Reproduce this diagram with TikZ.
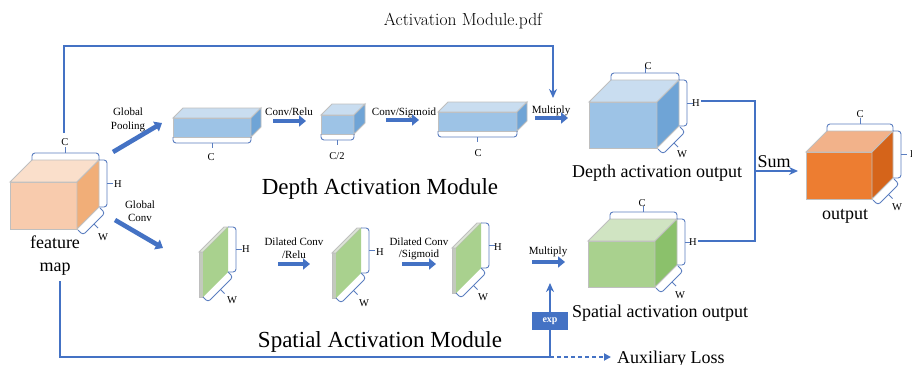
\documentclass[tikz,border=0pt]{standalone}
\usepackage{fontspec}
\newfontfamily\tnr{Liberation Serif}
\usetikzlibrary{arrows.meta,calc}
\definecolor{ln}{HTML}{4472C4}
\definecolor{brcol}{HTML}{5B7EC0}
\definecolor{edgecol}{HTML}{BFBFBF}
\definecolor{bfront}{HTML}{9DC3E6}
\definecolor{btop}{HTML}{C9DDF0}
\definecolor{bside}{HTML}{6FA4D6}
\definecolor{ofront}{HTML}{F8CBAD}
\definecolor{otop}{HTML}{FADFCB}
\definecolor{oside}{HTML}{F1AE78}
\definecolor{rfront}{HTML}{ED7D31}
\definecolor{rtop}{HTML}{F2B28A}
\definecolor{rside}{HTML}{D5641A}
\definecolor{gfront}{HTML}{A9D18E}
\definecolor{gtop}{HTML}{D0E4C2}
\definecolor{gside}{HTML}{8BC16B}
\definecolor{sstrip}{HTML}{C3CABD}
\definecolor{stopc}{HTML}{DDE6D6}
\newcommand{\brk}[3]{%
  \draw[brc] (#1) -- ($(#1)+(#3)$) -- ($(#2)+(#3)$) -- (#2);
  \draw[brc] ($(#1)!0.5!(#2)+(#3)$) -- ($(#1)!0.5!(#2)+1.8*(#3)$);}
\newcommand{\mycube}[8]{%
  \filldraw[edge, fill=#6] (#1,#2) rectangle ++(#3,#4);
  \filldraw[edge, fill=#7] (#1,#2) -- ++(#5,-#5) -- ++(#3,0) -- ++(-#5,#5) -- cycle;
  \filldraw[edge, fill=#8] (#1+#3,#2) -- ++(#5,-#5) -- ++(0,#4) -- ++(-#5,#5) -- cycle;}
\newcommand{\cubebr}[5]{%
  \brk{#1+#5,#2-#5}{#1+#3+#5,#2-#5}{0,-7}
  \brk{#1+#3+#5,#2-#5}{#1+#3+#5,#2+#4-#5}{8,0}
  \brk{#1+#3+1,#2+#4+1}{#1+#3+#5+1,#2+#4-#5+1}{5,5}}
\newcommand{\slab}[2]{%
  \filldraw[edge, fill=sstrip] (#1,#2) rectangle ++(4,-45);
  \filldraw[edge, fill=stopc] (#1,#2-45) -- ++(25,-25) -- ++(4,0) -- ++(-25,25) -- cycle;
  \fill[gfront] (#1+4,#2) -- ++(0,-45) -- ++(25,-25) -- ++(0,45) -- cycle;
  \brk{#1+29,#2-70}{#1+29,#2-25}{8,0}
  \brk{#1+4,#2}{#1+29,#2-25}{5,5}}
\begin{document}
\begin{tikzpicture}[x=1pt,y=-1pt,
  edge/.style={draw=edgecol, line width=0.9pt},
  brc/.style={draw=brcol, line width=0.9pt, rounded corners=3pt},
  conn/.style={draw=ln, line width=2.4pt},
  tipa/.style={-{Stealth[length=9pt,width=8pt]}},
  barrow/.style={draw=ln, line width=4.6pt, -{Triangle[length=7pt,width=11pt]}},
  lbl/.style={font=\tnr\fontsize{10.5}{12}\selectfont, inner sep=0pt},
  sm/.style={font=\tnr\fontsize{11}{13}\selectfont, inner sep=0pt, anchor=base},
  big/.style={font=\tnr\fontsize{18}{20}\selectfont, inner sep=0pt, anchor=base},
  huge/.style={font=\tnr\fontsize{23}{26}\selectfont, inner sep=0pt, anchor=base}]
\useasboundingbox (0,0) rectangle (912,364);
\fill[white] (0,0) rectangle (912,364);

% title
\node[font=\fontsize{17.5}{20}\selectfont, inner sep=0pt, anchor=base] (title) at (463,25) {Activation Module.pdf};

% cubes
\mycube{10}{182}{67}{47}{22}{ofront}{otop}{oside}
\cubebr{10}{182}{67}{47}{22}
\mycube{589}{102}{68}{46}{22}{bfront}{btop}{bside}
\cubebr{589}{102}{68}{46}{22}
\mycube{588}{241}{67}{46}{22}{gfront}{gtop}{gside}
\cubebr{588}{241}{67}{46}{22}
\mycube{806}{152}{66}{47}{21}{rfront}{rtop}{rside}
\cubebr{806}{152}{66}{47}{21}

% flat boxes
\mycube{173}{118}{78}{19}{10}{bfront}{btop}{bside}
\brk{173,137}{251,137}{0,6}
\mycube{321}{115}{33}{19}{11}{bfront}{btop}{bside}
\brk{321,134}{354,134}{0,6}
\mycube{438}{112}{79}{19}{10}{bfront}{btop}{bside}
\brk{438,131}{517,131}{0,6}

% slabs
\slab{199}{297}
\slab{332}{298}
\slab{452}{293}

% dimension labels
\node[lbl] (fmC) at (65,142) {C};
\node[lbl] (fmH) at (118,184) {H};
\node[lbl] (fmW) at (103,237) {W};
\node[lbl] (b1C) at (211,157) {C};
\node[lbl] (b2C) at (337,156) {C/2};
\node[lbl] (b3C) at (478,153) {C};
\node[lbl] (dC) at (648,66) {C};
\node[lbl] (dH) at (696,103) {H};
\node[lbl] (dW) at (682,154) {W};
\node[lbl] (sC) at (642,203) {C};
\node[lbl] (sH) at (693,242) {H};
\node[lbl] (sW) at (680,295) {W};
\node[lbl] (oC) at (860,114) {C};
\node[lbl] (oH) at (914,154) {H};
\node[lbl] (oW) at (897,207) {W};
\node[lbl] (s1H) at (246,249) {H};
\node[lbl] (s1W) at (232,300) {W};
\node[lbl] (s2H) at (380,252) {H};
\node[lbl] (s2W) at (364,303) {W};
\node[lbl] (s3H) at (498,247) {H};
\node[lbl] (s3W) at (483,297) {W};

% texts
\node[big] (fm1) at (55,248) {feature};
\node[big] (fm2) at (55,271) {map};
\node[huge] (dam) at (380,194) {Depth Activation Module};
\node[huge] (sam) at (380,347) {Spatial Activation Module};
\node[big] (dout) at (657,177) {Depth activation output};
\node[big] (sout) at (660,317) {Spatial activation output};
\node[big] (outt) at (845,219) {output};
\node[big] (sumt) at (774,167) {Sum};
\node[big, anchor=base west] (aux) at (617,363) {Auxiliary Loss};
\node[sm] (gp1) at (128,115) {Global};
\node[sm] (gp2) at (128,129) {Pooling};
\node[sm] (gc1) at (140,208) {Global};
\node[sm] (gc2) at (140,221) {Conv};
\node[sm] (cr) at (289,115) {Conv/Relu};
\node[sm] (cs) at (404,115) {Conv/Sigmoid};
\node[sm] (mu1) at (551,113) {Multiply};
\node[sm] (dc1) at (294,245) {Dilated Conv};
\node[sm] (dc1b) at (294,258) {/Relu};
\node[sm] (dc2) at (419,245) {Dilated Conv};
\node[sm] (dc2b) at (419,257) {/Sigmoid};
\node[sm] (mu2) at (548,254) {Multiply};

% block arrows
\coordinate (gpA) at (113,152); \coordinate (gpB) at (162,123);
\coordinate (gcA) at (115,220); \coordinate (gcB) at (163,248);
\coordinate (crA) at (273,121); \coordinate (crB) at (306,121);
\coordinate (csA) at (386,120); \coordinate (csB) at (419,120);
\coordinate (m1A) at (535,118); \coordinate (m1B) at (568,118);
\coordinate (d1A) at (278,264); \coordinate (d1B) at (310,264);
\coordinate (d2A) at (402,264); \coordinate (d2B) at (436,264);
\coordinate (m2A) at (532,262); \coordinate (m2B) at (565,262);
\draw[barrow] (gpA) -- (gpB);
\draw[barrow] (gcA) -- (gcB);
\draw[barrow] (crA) -- (crB);
\draw[barrow] (csA) -- (csB);
\draw[barrow] (m1A) -- (m1B);
\draw[barrow] (d1A) -- (d1B);
\draw[barrow] (d2A) -- (d2B);
\draw[barrow] (m2A) -- (m2B);

% connectors
\coordinate (fmTop) at (64,133);
\coordinate (topL) at (64,46);
\coordinate (mulIn) at (553,98);
\draw[conn, tipa] (fmTop) -- (topL) -| (mulIn);

\coordinate (dOut) at (701,101);
\coordinate (sOut) at (698,241);
\coordinate (junc) at (755,171);
\coordinate (sumIn) at (798,171);
\draw[conn] (dOut) -| (junc) |- (sOut);
\draw[conn, tipa] (junc) -- (sumIn);

\coordinate (fmBot) at (60,281);
\coordinate (botL) at (60,357);
\coordinate (expBot) at (550,357);
\coordinate (expTop) at (550,283);
\coordinate (auxIn) at (611,357);
\draw[conn] (fmBot) -- (botL) -- (expBot);
\draw[conn, tipa] (expBot) -- (expTop);
\draw[draw=ln, line width=1.8pt, dash pattern=on 4pt off 3pt, -{Triangle[length=7pt,width=7pt]}] (expBot) -- (auxIn);

\node[fill=ln, minimum width=36pt, minimum height=18pt, inner sep=0pt, text=white, font=\tnr\bfseries\fontsize{10}{12}\selectfont] (exp) at (550,321) {exp};
\end{tikzpicture}
\end{document}
